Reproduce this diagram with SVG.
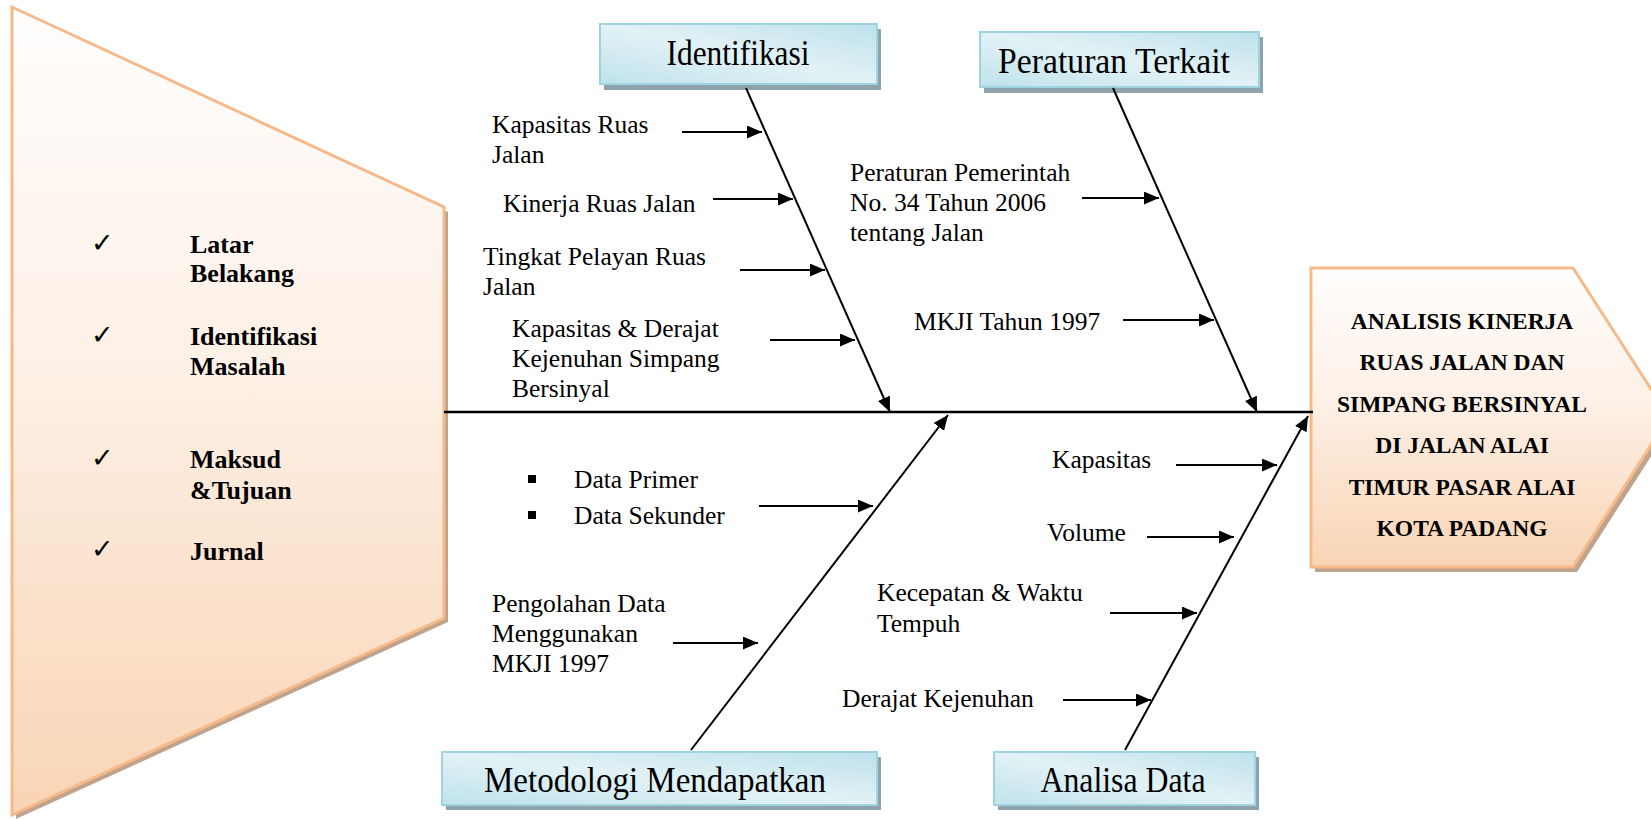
<svg xmlns="http://www.w3.org/2000/svg" width="1651" height="819" viewBox="0 0 1651 819">
<style>
.lbl{font-family:"Liberation Serif","Times New Roman",serif;font-size:25.5px;fill:#000}
.hdr{font-family:"Liberation Serif","Times New Roman",serif;font-size:35px;fill:#000;text-anchor:middle}
.lb{font-family:"Liberation Serif","Times New Roman",serif;font-size:26px;font-weight:bold;fill:#000}
.rb{font-family:"Liberation Serif","Times New Roman",serif;font-size:23.5px;font-weight:bold;fill:#000;text-anchor:middle}
.chk{font-family:"DejaVu Sans",sans-serif;font-size:27px;fill:#000}
.box{fill:url(#blue);stroke:#9fd3e0;stroke-width:2}
.bsh{fill:#8ea3ad}
.peach{fill:url(#peach);stroke:#f6b98a;stroke-width:3}
.psh{fill:#bfa38c}
.bone{stroke:#000;stroke-width:2;fill:none;marker-end:url(#ah)}
.arr{stroke:#000;stroke-width:2;fill:none;marker-end:url(#ah)}
</style>
<defs>
<linearGradient id="peach" x1="0" y1="0" x2="0" y2="1">
<stop offset="0" stop-color="#fffefd"/>
<stop offset="0.45" stop-color="#fdf0e6"/>
<stop offset="1" stop-color="#f9d4b4"/>
</linearGradient>
<linearGradient id="blue" x1="0" y1="1" x2="1" y2="0">
<stop offset="0" stop-color="#bfe2eb"/>
<stop offset="0.5" stop-color="#e2f2f6"/>
<stop offset="1" stop-color="#bde1ea"/>
</linearGradient>
<marker id="ah" markerUnits="userSpaceOnUse" markerWidth="16" markerHeight="13" refX="15" refY="6.5" orient="auto">
<path d="M0,0 L15,6.5 L0,13 z" fill="#000"/>
</marker>
</defs>
<rect width="1651" height="819" fill="#fff"/>

<g id="left-panel">
<polygon class="psh" points="16,12 448,212 448,622 16,819"/>
<polygon class="peach" points="12,7 444,207 444,618 12,815"/>
<text class="chk" x="91" y="252">✓</text>
<text class="lb" x="190" y="253">Latar</text>
<text class="lb" x="190" y="282">Belakang</text>
<text class="chk" x="91" y="344">✓</text>
<text class="lb" x="190" y="345">Identifikasi</text>
<text class="lb" x="190" y="375">Masalah</text>
<text class="chk" x="91" y="467">✓</text>
<text class="lb" x="190" y="468">Maksud</text>
<text class="lb" x="190" y="499">&amp;Tujuan</text>
<text class="chk" x="91" y="558">✓</text>
<text class="lb" x="190" y="560">Jurnal</text>
</g>

<g id="result">
<polygon class="psh" points="1315,273 1577,273 1673,422 1577,572 1315,572"/>
<polygon class="peach" points="1311,268 1573,268 1669,417 1573,567 1311,567"/>
<text class="rb" x="1462" y="329">ANALISIS KINERJA</text>
<text class="rb" x="1462" y="370">RUAS JALAN DAN</text>
<text class="rb" x="1462" y="412">SIMPANG BERSINYAL</text>
<text class="rb" x="1462" y="453">DI JALAN ALAI</text>
<text class="rb" x="1462" y="495">TIMUR PASAR ALAI</text>
<text class="rb" x="1462" y="536">KOTA PADANG</text>
</g>

<g id="identifikasi">
<rect class="bsh" x="604" y="29" width="277" height="61"/>
<rect class="box" x="600" y="24" width="277" height="60"/>
<text class="hdr" x="738" y="65" textLength="143" lengthAdjust="spacingAndGlyphs">Identifikasi</text>
</g>

<g id="peraturan">
<rect class="bsh" x="984" y="37" width="279" height="56"/>
<rect class="box" x="980" y="32" width="279" height="55"/>
<text class="hdr" x="1114" y="73" textLength="232" lengthAdjust="spacingAndGlyphs">Peraturan Terkait</text>
</g>

<g id="metodologi">
<rect class="bsh" x="446" y="757" width="435" height="53"/>
<rect class="box" x="442" y="752" width="435" height="53"/>
<text class="hdr" x="655" y="792" textLength="342" lengthAdjust="spacingAndGlyphs">Metodologi Mendapatkan</text>
</g>

<g id="analisa">
<rect class="bsh" x="998" y="757" width="261" height="53"/>
<rect class="box" x="994" y="752" width="261" height="53"/>
<text class="hdr" x="1123" y="792" textLength="165" lengthAdjust="spacingAndGlyphs">Analisa Data</text>
</g>

<g id="labels">
<text class="lbl" x="492" y="133">Kapasitas Ruas</text>
<text class="lbl" x="492" y="163">Jalan</text>
<text class="lbl" x="503" y="212">Kinerja Ruas Jalan</text>
<text class="lbl" x="483" y="265">Tingkat Pelayan Ruas</text>
<text class="lbl" x="483" y="295">Jalan</text>
<text class="lbl" x="512" y="337">Kapasitas &amp; Derajat</text>
<text class="lbl" x="512" y="367">Kejenuhan Simpang</text>
<text class="lbl" x="512" y="397">Bersinyal</text>
<text class="lbl" x="850" y="181">Peraturan Pemerintah</text>
<text class="lbl" x="850" y="211">No. 34 Tahun 2006</text>
<text class="lbl" x="850" y="241">tentang Jalan</text>
<text class="lbl" x="914" y="330">MKJI Tahun 1997</text>
<rect x="528" y="475" width="8" height="8" fill="#000"/>
<rect x="528" y="511" width="8" height="8" fill="#000"/>
<text class="lbl" x="574" y="488">Data Primer</text>
<text class="lbl" x="574" y="524">Data Sekunder</text>
<text class="lbl" x="492" y="612">Pengolahan Data</text>
<text class="lbl" x="492" y="642">Menggunakan</text>
<text class="lbl" x="492" y="672">MKJI 1997</text>
<text class="lbl" x="1052" y="468">Kapasitas</text>
<text class="lbl" x="1047" y="541">Volume</text>
<text class="lbl" x="877" y="601">Kecepatan &amp; Waktu</text>
<text class="lbl" x="877" y="632">Tempuh</text>
<text class="lbl" x="842" y="707">Derajat Kejenuhan</text>
</g>

<g id="connectors">
<line x1="444" y1="412" x2="1313" y2="412" stroke="#000" stroke-width="2.5"/>
<line class="bone" x1="746" y1="88" x2="890" y2="412"/>
<line class="bone" x1="1113" y1="88" x2="1257" y2="412"/>
<line class="bone" x1="691" y1="750" x2="948" y2="415"/>
<line class="bone" x1="1125" y1="750" x2="1308" y2="416"/>
<line class="arr" x1="682" y1="132" x2="762" y2="132"/>
<line class="arr" x1="713" y1="199" x2="793" y2="199"/>
<line class="arr" x1="740" y1="270" x2="825" y2="270"/>
<line class="arr" x1="770" y1="340" x2="855" y2="340"/>
<line class="arr" x1="1082" y1="198" x2="1159" y2="198"/>
<line class="arr" x1="1123" y1="320" x2="1214" y2="320"/>
<line class="arr" x1="759" y1="506" x2="873" y2="506"/>
<line class="arr" x1="673" y1="643" x2="758" y2="643"/>
<line class="arr" x1="1176" y1="465" x2="1277" y2="465"/>
<line class="arr" x1="1147" y1="537" x2="1234" y2="537"/>
<line class="arr" x1="1110" y1="613" x2="1197" y2="613"/>
<line class="arr" x1="1063" y1="700" x2="1151" y2="700"/>
</g>
</svg>
